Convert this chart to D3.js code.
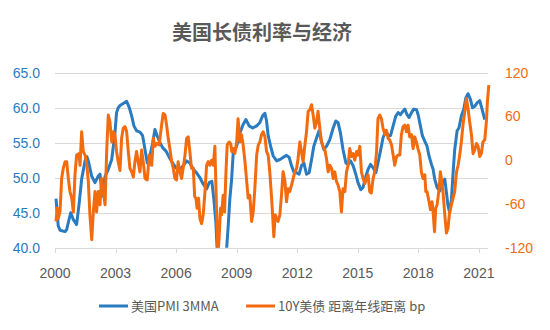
<!DOCTYPE html>
<html>
<head>
<meta charset="utf-8">
<title>美国长债利率与经济</title>
<script src="https://d3js.org/d3.v7.min.js"></script>
<style type="text/css">
  body { margin: 0; background: white; }
  #chart { position: absolute; top: 0; left: 0; width: 550px; height: 330px; }
</style>
</head>
<body>
<div id="chart"></div>
<script type="text/javascript">

// ---- data ----
var yearTicks = [2000, 2003, 2006, 2009, 2012, 2015, 2018, 2021];
var leftTicks = [40, 45, 50, 55, 60, 65];
var rightTicks = [-120, -60, 0, 60, 120];

var pmiDates = [2000.05, 2000.16, 2000.25, 2000.50, 2000.58, 2000.66, 2000.78, 2000.91, 2001.07, 2001.20,
  2001.32, 2001.49, 2001.58, 2001.65, 2001.82, 2001.98, 2002.14, 2002.23, 2002.34, 2002.48,
  2002.64, 2002.81, 2002.97, 2003.05, 2003.13, 2003.22, 2003.38, 2003.55, 2003.68, 2003.80,
  2003.91, 2004.04, 2004.21, 2004.34, 2004.46, 2004.57, 2004.70, 2004.84, 2004.95, 2005.06,
  2005.20, 2005.33, 2005.50, 2005.66, 2005.83, 2005.99, 2006.19, 2006.35, 2006.52, 2006.68,
  2006.85, 2007.01, 2007.18, 2007.34, 2007.51, 2007.64, 2007.77, 2007.87, 2007.97, 2008.03,
  2008.10, 2008.20, 2008.30, 2008.40, 2008.50, 2008.58, 2008.66, 2008.75, 2008.83, 2009.00,
  2009.16, 2009.32, 2009.46, 2009.62, 2009.79, 2009.99, 2010.15, 2010.28, 2010.40, 2010.48,
  2010.56, 2010.68, 2010.81, 2010.98, 2011.14, 2011.30, 2011.47, 2011.60, 2011.72, 2011.83,
  2011.97, 2012.09, 2012.21, 2012.33, 2012.46, 2012.59, 2012.71, 2012.82, 2012.96, 2013.08,
  2013.20, 2013.32, 2013.45, 2013.61, 2013.78, 2013.91, 2014.02, 2014.14, 2014.27, 2014.41,
  2014.52, 2014.64, 2014.77, 2014.90, 2015.01, 2015.15, 2015.26, 2015.40, 2015.51, 2015.63,
  2015.76, 2015.89, 2016.00, 2016.12, 2016.25, 2016.39, 2016.50, 2016.62, 2016.75, 2016.88,
  2017.00, 2017.11, 2017.24, 2017.33, 2017.44, 2017.54, 2017.66, 2017.77, 2017.91, 2017.99,
  2018.10, 2018.20, 2018.32, 2018.43, 2018.53, 2018.65, 2018.73, 2018.81, 2018.93, 2019.06,
  2019.19, 2019.31, 2019.39, 2019.47, 2019.55, 2019.64, 2019.72, 2019.80, 2019.92, 2020.01,
  2020.13, 2020.25, 2020.35, 2020.46, 2020.58, 2020.68, 2020.79, 2020.91, 2021.04, 2021.12,
  2021.20, 2021.29];
var pmiValues = [47.0, 43.1, 42.5, 42.3, 42.6, 43.6, 45.0, 44.0, 43.3, 46.4,
  49.8, 52.4, 53.0, 52.4, 50.2, 49.3, 50.2, 50.5, 47.4, 50.2,
  51.2, 52.6, 56.4, 59.3, 60.0, 60.3, 60.6, 60.9, 60.0, 58.8,
  57.4, 56.7, 56.5, 56.0, 54.0, 52.1, 53.1, 55.0, 56.9, 56.0,
  55.0, 54.3, 53.8, 52.9, 52.1, 51.4, 51.2, 51.7, 52.4, 52.1,
  51.2, 50.7, 50.0, 49.1, 48.4, 49.3, 49.5, 46.9, 43.6, 39.8,
  37.0, 35.0, 35.5, 37.5, 39.8, 43.1, 46.9, 49.8, 53.6, 54.5,
  56.4, 57.6, 58.3, 57.4, 57.1, 57.4, 57.9, 58.8, 59.2, 58.1,
  56.0, 54.5, 53.1, 52.4, 52.6, 52.9, 53.2, 52.9, 51.7, 50.8,
  50.7, 50.5, 51.7, 52.1, 50.5, 50.7, 52.6, 54.5, 55.7, 56.7,
  55.2, 54.0, 54.5, 55.4, 57.1, 58.1, 57.9, 56.4, 54.0, 52.1,
  51.9, 52.4, 51.7, 50.5, 49.3, 48.3, 48.6, 50.2, 51.2, 51.9,
  51.4, 50.7, 52.1, 53.8, 55.7, 56.7, 56.0, 56.0, 57.4, 58.8,
  59.3, 59.0, 59.5, 59.8, 59.0, 58.6, 59.3, 59.8, 59.7, 59.0,
  57.4, 56.0, 55.2, 54.5, 53.1, 51.9, 51.2, 49.8, 48.6, 48.1,
  49.1, 49.8, 47.9, 46.0, 45.0, 46.9, 50.7, 54.0, 56.7, 57.1,
  58.8, 59.8, 61.4, 62.0, 61.2, 60.0, 60.2, 60.7, 61.0, 60.2,
  59.3, 58.3];

var bondDates = [2000.05, 2000.11, 2000.16, 2000.25, 2000.33, 2000.41, 2000.50, 2000.58, 2000.66, 2000.74,
  2000.83, 2000.91, 2000.99, 2001.07, 2001.19, 2001.24, 2001.32, 2001.40, 2001.49, 2001.58,
  2001.65, 2001.73, 2001.82, 2001.90, 2001.98, 2002.06, 2002.14, 2002.23, 2002.31, 2002.39,
  2002.48, 2002.56, 2002.64, 2002.72, 2002.81, 2002.89, 2002.97, 2003.05, 2003.13, 2003.22,
  2003.30, 2003.38, 2003.47, 2003.55, 2003.63, 2003.71, 2003.80, 2003.88, 2003.96, 2004.04,
  2004.12, 2004.21, 2004.29, 2004.37, 2004.46, 2004.57, 2004.67, 2004.79, 2004.87, 2004.95,
  2005.06, 2005.16, 2005.28, 2005.36, 2005.45, 2005.53, 2005.61, 2005.69, 2005.78, 2005.86,
  2005.94, 2006.02, 2006.10, 2006.19, 2006.27, 2006.35, 2006.44, 2006.52, 2006.60, 2006.68,
  2006.76, 2006.85, 2006.92, 2006.98, 2007.04, 2007.11, 2007.18, 2007.26, 2007.34, 2007.43,
  2007.51, 2007.59, 2007.67, 2007.76, 2007.84, 2007.92, 2008.00, 2008.07, 2008.13, 2008.20,
  2008.25, 2008.33, 2008.40, 2008.47, 2008.53, 2008.63, 2008.70, 2008.76, 2008.83, 2008.91,
  2009.00, 2009.07, 2009.16, 2009.24, 2009.32, 2009.41, 2009.49, 2009.57, 2009.65, 2009.74,
  2009.82, 2009.90, 2009.99, 2010.07, 2010.15, 2010.23, 2010.31, 2010.40, 2010.48, 2010.56,
  2010.64, 2010.73, 2010.78, 2010.84, 2010.91, 2010.98, 2011.05, 2011.14, 2011.22, 2011.30,
  2011.39, 2011.47, 2011.55, 2011.63, 2011.72, 2011.80, 2011.88, 2011.97, 2012.04, 2012.13,
  2012.21, 2012.29, 2012.38, 2012.46, 2012.54, 2012.62, 2012.71, 2012.79, 2012.87, 2012.95,
  2013.03, 2013.12, 2013.20, 2013.28, 2013.37, 2013.45, 2013.53, 2013.61, 2013.70, 2013.78,
  2013.86, 2013.94, 2014.02, 2014.11, 2014.19, 2014.27, 2014.36, 2014.44, 2014.52, 2014.60,
  2014.69, 2014.77, 2014.85, 2014.94, 2015.01, 2015.10, 2015.18, 2015.26, 2015.35, 2015.43,
  2015.51, 2015.59, 2015.67, 2015.76, 2015.84, 2015.93, 2016.00, 2016.09, 2016.17, 2016.25,
  2016.34, 2016.42, 2016.50, 2016.58, 2016.67, 2016.75, 2016.83, 2016.92, 2017.00, 2017.08,
  2017.16, 2017.24, 2017.33, 2017.41, 2017.49, 2017.57, 2017.66, 2017.74, 2017.82, 2017.90,
  2017.98, 2018.07, 2018.15, 2018.23, 2018.32, 2018.37, 2018.43, 2018.53, 2018.60, 2018.68,
  2018.73, 2018.80, 2018.86, 2018.93, 2019.03, 2019.09, 2019.16, 2019.22, 2019.31, 2019.39,
  2019.47, 2019.55, 2019.64, 2019.72, 2019.80, 2019.89, 2019.97, 2020.05, 2020.13, 2020.21,
  2020.30, 2020.38, 2020.46, 2020.54, 2020.63, 2020.71, 2020.79, 2020.88, 2020.96, 2021.04,
  2021.12, 2021.20, 2021.29, 2021.37, 2021.42, 2021.49];
var bondValues = [-84, -66, -80, -70, -25, -11, -2, -2, -25, -43,
  -52, -71, -20, 7, 9, -7, 39, 12, 7, -7,
  -29, -75, -109, -71, -43, -71, -43, -61, -25, -43,
  -61, 12, 62, 53, 25, 39, 35, 12, -2, -14,
  30, 44, 46, 39, 12, -11, -16, -23, -2, 12,
  -2, -16, 14, -2, -25, -27, 7, -7, 30, 19,
  23, 21, 48, 64, 62, 48, 30, 16, -2, -11,
  -25, -27, -2, -16, -25, -11, 7, 30, 32, 12,
  -11, -11, -50, -52, -66, -52, -80, -87, -75, -43,
  -7, -2, -7, 0, -7, 19, -66, -130, -107, -66,
  -75, -48, -71, -16, 21, 25, 23, 12, 16, 9,
  25, 57, 25, 35, 21, -2, -27, -52, -48, -84,
  -71, -39, 7, 21, 25, 35, 39, 32, 12, 7,
  -16, -52, -75, -105, -75, -80, -84, -75, -48, -16,
  -29, -57, -39, -43, -34, -25, -16, -11, 2, 25,
  12, -2, 21, 39, 67, 69, 76, 62, 44, 51,
  67, 44, 25, 19, 14, 2, -16, -7, -11, -25,
  -16, -29, -34, -43, -71, -39, -43, -16, -7, 16,
  5, 9, 0, 12, 7, 19, -16, -25, -32, -25,
  -20, -43, -45, -25, -16, 12, 57, 62, 57, 44,
  35, 41, 30, 28, 21, 7, -7, 5, 7, 7,
  35, 46, 48, 39, 48, 32, 35, 16, 32, 25,
  16, 7, -16, -25, -20, -43, -43, -57, -68, -57,
  -71, -98, -66, -61, -39, -16, -29, -43, -75, -100,
  -93, -71, -61, -52, -43, -16, -7, 7, 25, 48,
  67, 85, 71, 53, 35, 9, 14, 23, 19, 5,
  9, 25, 28, 53, 80, 103];

var blue = "#2a7bbf",
    orange = "#f26b0f",
    gray = "#595959";

var width = 550,
    height = 330;

var svg = d3.select("#chart")
            .append("svg")
            .attr("width", width)
            .attr("height", height);

svg.append("rect").attr("width", width).attr("height", height).attr("fill", "white");

var x = d3.scaleLinear().domain([2000, 2021.45]).range([55, 488]);
var yLeft = d3.scaleLinear().domain([40, 65]).range([247.7, 72.7]);
var yRight = d3.scaleLinear().domain([-120, 120]).range([247.7, 72.7]);

// title
svg.append("text")
   .attr("x", 262).attr("y", 40)
   .attr("text-anchor", "middle")
   .attr("font-family", "'Noto Sans CJK SC', sans-serif")
   .attr("font-size", 20).attr("font-weight", "bold")
   .attr("fill", gray)
   .text("美国长债利率与经济");

// gridlines
svg.append("g").selectAll("line")
   .data(leftTicks).enter().append("line")
   .attr("x1", 55).attr("x2", 488)
   .attr("y1", function(d){return Math.round(yLeft(d)) + 0.5})
   .attr("y2", function(d){return Math.round(yLeft(d)) + 0.5})
   .attr("stroke", "#d9d9d9").attr("stroke-width", 1);

// x tick marks + labels
var xAxis = svg.append("g");
xAxis.selectAll("line")
   .data(yearTicks).enter().append("line")
   .attr("x1", function(d){return Math.round(x(d)) + 0.5})
   .attr("x2", function(d){return Math.round(x(d)) + 0.5})
   .attr("y1", 248).attr("y2", 253)
   .attr("stroke", "#d9d9d9");
xAxis.selectAll("text")
   .data(yearTicks).enter().append("text")
   .attr("x", function(d){return x(d)})
   .attr("y", 278)
   .attr("text-anchor", "middle")
   .attr("font-family", "'Liberation Sans', Arial, sans-serif")
   .attr("font-size", 14)
   .attr("fill", gray)
   .text(function(d){return d});

// left axis labels
svg.append("g").selectAll("text")
   .data(leftTicks).enter().append("text")
   .attr("x", 40)
   .attr("y", function(d){return yLeft(d) + 5})
   .attr("text-anchor", "end")
   .attr("font-family", "'Liberation Sans', Arial, sans-serif")
   .attr("font-size", 14)
   .attr("fill", blue)
   .text(d3.format(".1f"));

// right axis labels
svg.append("g").selectAll("text")
   .data(rightTicks).enter().append("text")
   .attr("x", 505)
   .attr("y", function(d){return yRight(d) + 5})
   .attr("text-anchor", "start")
   .attr("font-family", "'Liberation Sans', Arial, sans-serif")
   .attr("font-size", 14)
   .attr("fill", orange)
   .text(function(d){return String(d)});

// clip to plot area (PMI dips below 40 in 2008)
svg.append("clipPath").attr("id", "plotClip")
   .append("rect").attr("x", 40).attr("y", yLeft(65) - 2)
   .attr("width", 470).attr("height", yLeft(40) - yLeft(65) + 2);

var plot = svg.append("g").attr("clip-path", "url(#plotClip)");

var pmiData = pmiDates.map(function(d, i){return [d, pmiValues[i]]});
var bondData = bondDates.map(function(d, i){return [d, bondValues[i]]});

plot.append("path")
    .datum(pmiData)
    .attr("fill", "none")
    .attr("stroke", blue)
    .attr("stroke-width", 3)
    .attr("stroke-linejoin", "round")
    .attr("d", d3.line().x(function(d){return x(d[0])}).y(function(d){return yLeft(d[1])}));

plot.append("path")
    .datum(bondData)
    .attr("fill", "none")
    .attr("stroke", orange)
    .attr("stroke-width", 3)
    .attr("stroke-linejoin", "round")
    .attr("d", d3.line().x(function(d){return x(d[0])}).y(function(d){return yRight(d[1])}));

// legend
var legend = [
  {name: "美国PMI 3MMA", color: blue, x: 99},
  {name: "10Y美债 距离年线距离 bp", color: orange, x: 246}
];
var lg = svg.append("g").selectAll("g")
   .data(legend).enter().append("g")
   .attr("transform", function(d){return "translate(" + d.x + ",306)"});
lg.append("line")
  .attr("x1", 0).attr("x2", 29).attr("y1", 0).attr("y2", 0)
  .attr("stroke", function(d){return d.color}).attr("stroke-width", 3);
lg.append("text")
  .attr("x", 32).attr("y", 5)
  .attr("font-family", "'Noto Sans CJK SC', sans-serif")
  .attr("font-size", 13)
  .attr("fill", gray)
  .text(function(d){return d.name});

</script>
</body>
</html>
